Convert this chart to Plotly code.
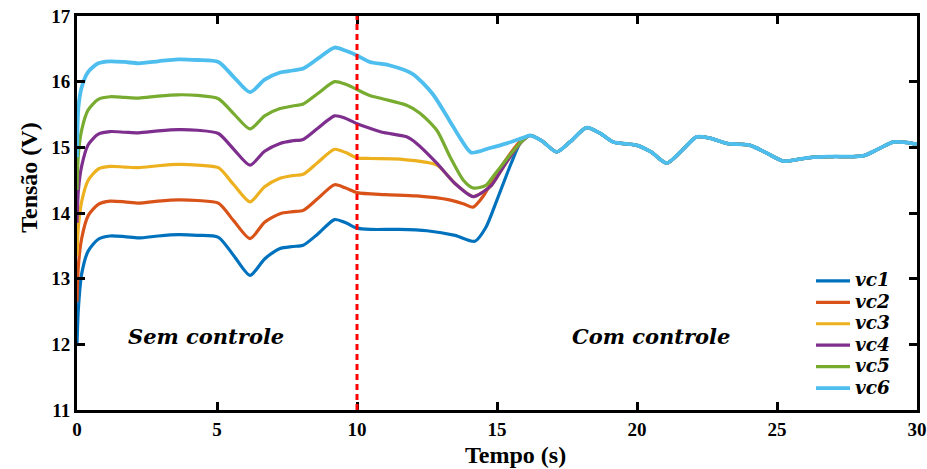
import plotly.graph_objects as go

# ---------------- data ----------------
t_pre = [0, 0.05, 0.17, 0.4, 0.76, 1.18, 1.7, 2.2, 2.9, 3.6, 4.3, 5.05, 5.6, 6.18, 6.7, 7.25, 7.7, 8.08, 8.6, 9.2, 9.6, 10.0]

vc1_pre = [12.0, 12.55, 13.08, 13.42, 13.60, 13.65, 13.64, 13.62, 13.65, 13.67, 13.66, 13.63, 13.35, 13.05, 13.30, 13.46, 13.49, 13.51, 13.68, 13.90, 13.85, 13.77]
vc2_pre = [12.65, 13.20, 13.62, 13.96, 14.13, 14.18, 14.17, 14.15, 14.18, 14.20, 14.19, 14.15, 13.88, 13.61, 13.86, 13.99, 14.02, 14.04, 14.22, 14.43, 14.38, 14.31]
vc3_pre = [13.35, 13.80, 14.18, 14.50, 14.67, 14.71, 14.70, 14.69, 14.72, 14.74, 14.73, 14.69, 14.43, 14.17, 14.40, 14.53, 14.57, 14.59, 14.77, 14.97, 14.92, 14.84]
vc4_pre = [13.85, 14.35, 14.72, 15.04, 15.20, 15.24, 15.23, 15.22, 15.25, 15.27, 15.26, 15.21, 14.97, 14.73, 14.94, 15.06, 15.10, 15.12, 15.29, 15.48, 15.44, 15.36]
vc5_pre = [14.35, 14.90, 15.27, 15.57, 15.73, 15.77, 15.76, 15.75, 15.78, 15.80, 15.79, 15.74, 15.51, 15.28, 15.48, 15.59, 15.63, 15.66, 15.82, 16.00, 15.96, 15.88]
vc6_pre = [14.85, 15.61, 15.92, 16.15, 16.28, 16.31, 16.30, 16.28, 16.31, 16.34, 16.33, 16.30, 16.07, 15.84, 16.03, 16.14, 16.17, 16.20, 16.35, 16.52, 16.47, 16.40]

vc1_t_mid = [10.5, 11.5, 12.5, 13.5, 14.21, 14.6, 15.0, 15.5, 15.85]
vc1_mid = [13.75, 13.75, 13.73, 13.66, 13.57, 13.78, 14.20, 14.75, 15.08]
vc2_t_mid = [11.0, 12.13, 13.3, 13.8, 14.15, 14.5, 14.85, 15.3, 15.8]
vc2_mid = [14.28, 14.26, 14.20, 14.14, 14.09, 14.25, 14.50, 14.80, 15.08]
vc3_t_mid = [10.5, 11.54, 12.85, 13.5, 14.15, 14.5, 14.8, 15.3, 15.8]
vc3_mid = [14.83, 14.82, 14.73, 14.45, 14.25, 14.32, 14.42, 14.75, 15.05]
vc4_t_mid = [10.46, 10.9, 11.77, 12.13, 12.85, 13.5, 14.15, 14.5, 14.8, 15.3, 15.8]
vc4_mid = [15.29, 15.23, 15.16, 15.06, 14.76, 14.45, 14.25, 14.32, 14.42, 14.75, 15.05]
vc5_t_mid = [10.46, 10.9, 11.77, 12.25, 12.85, 13.33, 13.8, 14.15, 14.6, 14.85, 15.4, 15.9]
vc5_mid = [15.79, 15.74, 15.64, 15.52, 15.26, 14.85, 14.50, 14.38, 14.42, 14.55, 14.85, 15.10]
vc6_t_mid = [10.46, 11.15, 11.98, 12.69, 13.3, 13.73, 14.08, 14.75, 15.35, 15.9]
vc6_mid = [16.30, 16.25, 16.12, 15.82, 15.41, 15.11, 14.92, 14.99, 15.06, 15.14]

t_tail = [16.18, 16.6, 17.13, 17.6, 18.2, 18.7, 19.15, 20.0, 20.5, 21.06, 21.6, 22.13, 22.6, 23.2, 24.04, 24.6, 25.23, 25.8, 26.3, 27.0, 28.07, 28.6, 29.14, 29.5, 30.0]
v_tail = [15.18, 15.10, 14.93, 15.08, 15.30, 15.21, 15.08, 15.03, 14.93, 14.76, 14.95, 15.16, 15.14, 15.06, 15.03, 14.92, 14.79, 14.82, 14.85, 14.86, 14.87, 14.97, 15.08, 15.08, 15.05]

names = ["vc1", "vc2", "vc3", "vc4", "vc5", "vc6"]
colors = ["#0072BD", "#D95319", "#EDB120", "#7E2F8E", "#77AC30", "#4DBEEE"]
widths = [3.2, 3.2, 3.2, 3.2, 3.2, 3.8]

CONTROL_T = 10
x_ticks = [0, 5, 10, 15, 20, 25, 30]
y_ticks = [11, 12, 13, 14, 15, 16, 17]

series = [
    (vc1_pre, vc1_t_mid, vc1_mid),
    (vc2_pre, vc2_t_mid, vc2_mid),
    (vc3_pre, vc3_t_mid, vc3_mid),
    (vc4_pre, vc4_t_mid, vc4_mid),
    (vc5_pre, vc5_t_mid, vc5_mid),
    (vc6_pre, vc6_t_mid, vc6_mid),
]

fig = go.Figure()
for (pre, tm, vm), nm, col, w in zip(series, names, colors, widths):
    fig.add_trace(go.Scatter(
        x=t_pre + tm + t_tail,
        y=pre + vm + v_tail,
        mode="lines",
        name=f'<span style="font-size:18.5px">{nm}</span>',
        line=dict(color=col, width=w, shape="spline", smoothing=0.7),
    ))

fig.add_shape(type="line", xref="x", yref="y", x0=CONTROL_T, x1=CONTROL_T, y0=11, y1=17,
              line=dict(color="#FF0000", width=3, dash="6px,4px"))

serif = "Liberation Serif"
ital = "DejaVu Serif"

axis_common = dict(
    showline=True, linecolor="black", linewidth=3, mirror="ticks",
    ticks="inside", ticklen=8, tickwidth=2.5, tickcolor="black",
    showgrid=False, zeroline=False, automargin=False,
    tickfont=dict(family=serif, size=19, color="black", weight="bold"),
)

fig.update_layout(
    width=927, height=469,
    margin=dict(l=77, r=10, t=16, b=59, autoexpand=False),
    paper_bgcolor="white", plot_bgcolor="white",
    xaxis=dict(range=[0, 30], tickvals=x_ticks, **axis_common),
    yaxis=dict(range=[11, 17], tickvals=y_ticks, **axis_common),
    showlegend=True,
    legend=dict(
        x=0.975, y=0.015, xanchor="right", yanchor="bottom",
        bgcolor="rgba(255,255,255,0)", borderwidth=0,
        font=dict(family=ital, size=14.2, color="black", weight="bold", style="italic"),
        itemwidth=34,
    ),
    annotations=[
        dict(text="Sem controle", xref="x", yref="y", x=4.6, y=12.12, showarrow=False,
             font=dict(family=ital, size=21, color="black", weight="bold", style="italic")),
        dict(text="Com controle", xref="x", yref="y", x=20.5, y=12.12, showarrow=False,
             font=dict(family=ital, size=21, color="black", weight="bold", style="italic")),
        dict(text="Tensão (V)", xref="paper", yref="paper", x=-0.058, y=0.59, showarrow=False,
             textangle=-90, xanchor="center", yanchor="middle",
             font=dict(family=serif, size=24, color="black", weight="bold")),
        dict(text="Tempo (s)", xref="paper", yref="paper", x=0.522, y=-0.114, showarrow=False,
             xanchor="center", yanchor="middle",
             font=dict(family=serif, size=24, color="black", weight="bold")),
    ],
)

fig.write_html("out.html")
